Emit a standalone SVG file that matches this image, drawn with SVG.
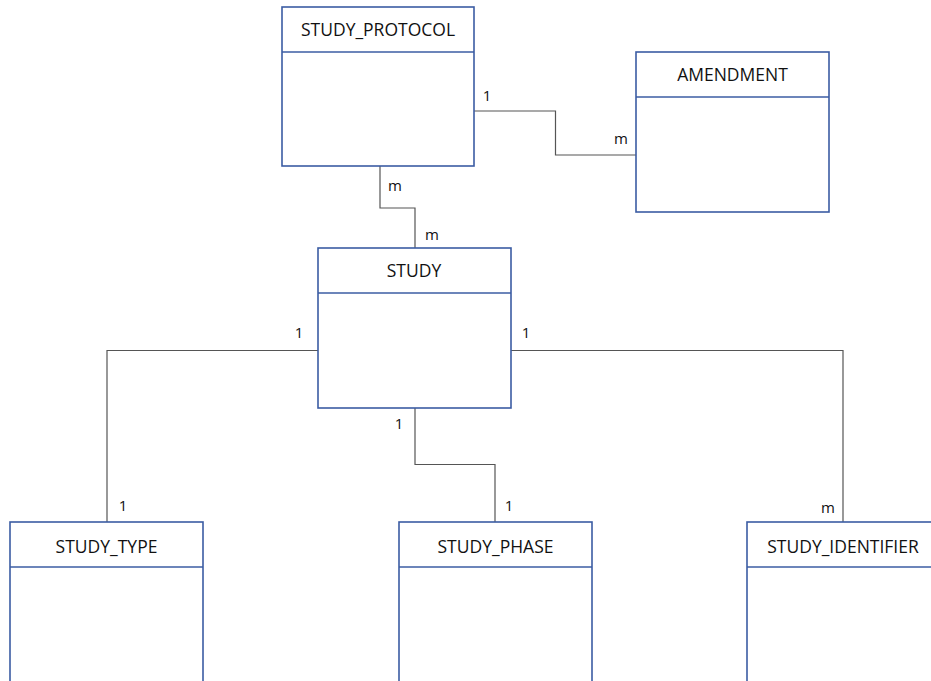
<svg xmlns="http://www.w3.org/2000/svg" width="931" height="681" viewBox="0 0 931 681">
<style>
.box{fill:#fff;stroke:#3b5ca3;stroke-width:1.6}
.sep{stroke:#3b5ca3;stroke-width:1.6}
.title{font-family:"Open Sans","Liberation Sans",sans-serif;font-size:17.5px;fill:#111;text-anchor:middle}
.card{font-family:"Open Sans","Liberation Sans",sans-serif;font-size:15px;fill:#111;text-anchor:middle}
.conn{fill:none;stroke:#555;stroke-width:1.2}
</style>
<rect width="931" height="681" fill="#fff"/>
<g id="connectors">
<polyline class="conn" points="474,111 555.5,111 555.5,155 636,155"/>
<polyline class="conn" points="380,166 380,208 415,208 415,248"/>
<polyline class="conn" points="318,350.5 107,350.5 107,522"/>
<polyline class="conn" points="415,408 415,464.5 495,464.5 495,522"/>
<polyline class="conn" points="511,350.5 843,350.5 843,522"/>
<text class="card" x="487" y="101">1</text>
<text class="card" x="621" y="144">m</text>
<text class="card" x="395" y="191">m</text>
<text class="card" x="432" y="240">m</text>
<text class="card" x="299" y="338">1</text>
<text class="card" x="526" y="338">1</text>
<text class="card" x="399" y="429">1</text>
<text class="card" x="123" y="511">1</text>
<text class="card" x="509" y="511">1</text>
<text class="card" x="828" y="513">m</text>
</g>
<g id="study_protocol">
<rect class="box" x="282" y="7" width="192" height="159"/>
<line class="sep" x1="282" y1="52" x2="474" y2="52"/>
<text class="title" x="378" y="36">STUDY_PROTOCOL</text>
</g>
<g id="amendment">
<rect class="box" x="636" y="52" width="193" height="160"/>
<line class="sep" x1="636" y1="97" x2="829" y2="97"/>
<text class="title" x="732.5" y="81">AMENDMENT</text>
</g>
<g id="study">
<rect class="box" x="318" y="248" width="193" height="160"/>
<line class="sep" x1="318" y1="293" x2="511" y2="293"/>
<text class="title" x="414" y="277">STUDY</text>
</g>
<g id="study_type">
<rect class="box" x="10" y="522" width="193" height="170"/>
<line class="sep" x1="10" y1="567" x2="203" y2="567"/>
<text class="title" x="106.5" y="553">STUDY_TYPE</text>
</g>
<g id="study_phase">
<rect class="box" x="399" y="522" width="193" height="170"/>
<line class="sep" x1="399" y1="567" x2="592" y2="567"/>
<text class="title" x="495.5" y="553">STUDY_PHASE</text>
</g>
<g id="study_identifier">
<rect class="box" x="747" y="522" width="193" height="170"/>
<line class="sep" x1="747" y1="567" x2="940" y2="567"/>
<text class="title" x="843" y="553">STUDY_IDENTIFIER</text>
</g>
</svg>
